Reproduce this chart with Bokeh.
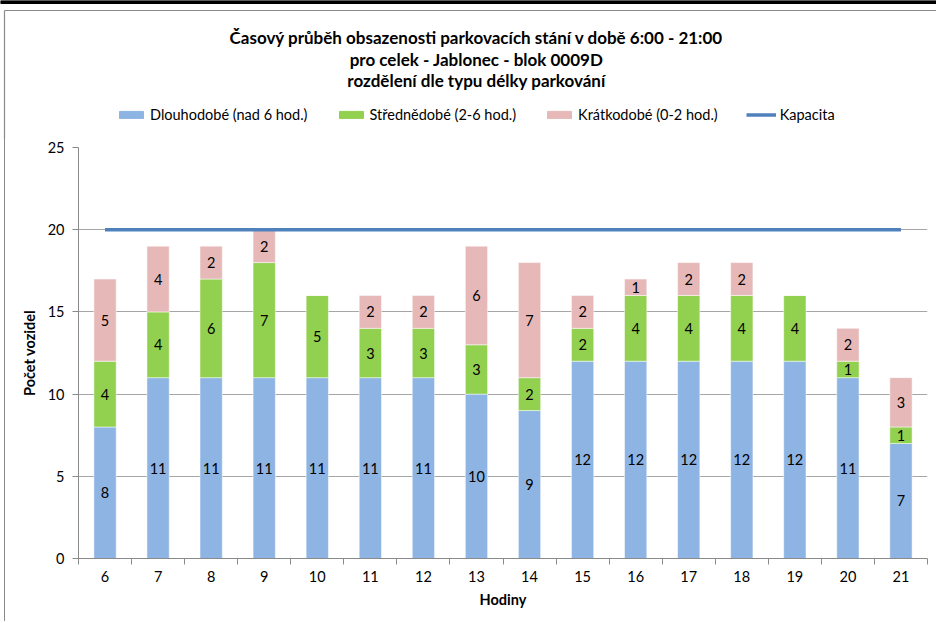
from bokeh.plotting import figure
from bokeh.models import ColumnDataSource, FixedTicker, Legend, LegendItem, Range1d
from bokeh.layouts import column
from bokeh.core.properties import value
from bokeh.embed import file_html
from bokeh.resources import INLINE

hours = [6, 7, 8, 9, 10, 11, 12, 13, 14, 15, 16, 17, 18, 19, 20, 21]
dlouhodobe = [8, 11, 11, 11, 11, 11, 11, 10, 9, 12, 12, 12, 12, 12, 11, 7]
strednedobe = [4, 4, 6, 7, 5, 3, 3, 3, 2, 2, 4, 4, 4, 4, 1, 1]
kratkodobe = [5, 4, 2, 2, 0, 2, 2, 6, 7, 2, 1, 2, 2, 0, 2, 3]
kapacita = [20] * len(hours)
y_ticks = [0, 5, 10, 15, 20, 25]

series_names = ["Dlouhodobé (nad 6 hod.)", "Střednědobé (2-6 hod.)", "Krátkodobé (0-2 hod.)"]
cap_name = "Kapacita"
colors = ["#8EB4E3", "#92D050", "#E6B9B8"]
cap_color = "#4F81BD"
title_lines = ["Časový průběh obsazenosti parkovacích stání v době 6:00 - 21:00",
               "pro celek - Jablonec - blok 0009D",
               "rozdělení dle typu délky parkování"]

FONT = "Lato"
GRAY = "#8a8a8a"

# ---------------- header: titles + legend ----------------
HW, HH = 936, 139
h = figure(width=HW, height=HH, output_backend="svg", toolbar_location=None,
           x_range=Range1d(0, HW), y_range=Range1d(HH, 0),
           min_border=0, min_border_left=0, min_border_right=0,
           min_border_top=0, min_border_bottom=0)
h.frame_align = False
h.axis.visible = False
h.grid.visible = False
h.outline_line_color = None
h.quad(left=[0], right=[HW], top=[0], bottom=[3], color="black")
h.segment(x0=[4, 4], y0=[10, 10], x1=[HW, 4], y1=[10, HH], line_color=GRAY, line_width=1.2)
h.text(x=[476] * 3, y=[37, 59, 80], text=title_lines, text_align="center",
       text_baseline="middle", text_font=value(FONT), text_font_size="17px",
       text_font_style="bold", text_color="#000000")

# legend swatches (zero-size marks, only used to style the legend entries)
dummy = [h.vbar(x=[0], top=[0], bottom=[0], width=0, color=c) for c in colors]
dummy_line = h.line(x=[0, 0], y=[0, 0], line_color=cap_color, line_width=3.5)
legend = Legend(items=[LegendItem(label=series_names[i], renderers=[dummy[i]]) for i in range(3)]
                + [LegendItem(label=cap_name, renderers=[dummy_line])],
                orientation="horizontal", location=(116, 16), spacing=28,
                glyph_width=30, glyph_height=9, label_standoff=4,
                label_text_font=FONT, label_text_font_size="14.5px",
                label_height=16, label_text_color="#000000",
                border_line_color=None, background_fill_alpha=0,
                padding=0, margin=0)
h.add_layout(legend)

# ---------------- main chart ----------------
src = ColumnDataSource(dict(hour=hours, d=dlouhodobe, s=strednedobe, k=kratkodobe))

p = figure(width=932, height=482, output_backend="svg", toolbar_location=None,
           x_range=Range1d(min(hours) - 0.5, max(hours) + 0.5),
           y_range=Range1d(min(y_ticks), max(y_ticks)),
           min_border_left=73, min_border_right=10, min_border_bottom=63, min_border_top=8)
p.frame_align = False
p.margin = (0, 0, 0, 4)
p.styles = {"border-left": "1.2px solid " + GRAY}

bars = p.vbar_stack(["d", "s", "k"], x="hour", width=0.42, color=colors,
                    line_color="white", line_width=0.5, source=src)
cap = p.line(hours, kapacita, line_color=cap_color, line_width=3.5)

# segment value labels
lx, ly, lt = [], [], []
for i, hr in enumerate(hours):
    base = 0
    for vals in (dlouhodobe, strednedobe, kratkodobe):
        v = vals[i]
        if v > 0:
            lx.append(hr)
            ly.append(base + v / 2)
            lt.append(str(v))
        base += v
p.text(lx, ly, text=lt, text_align="center", text_baseline="middle",
       text_font=value(FONT), text_font_size="14.5px", text_color="#000000")

# axes
p.xaxis.ticker = FixedTicker(ticks=hours, minor_ticks=[hr - 0.5 for hr in hours] + [max(hours) + 0.5])
p.xaxis.major_tick_line_color = None
p.xaxis.major_tick_out = 6
p.xaxis.minor_tick_out = 6
p.xaxis.minor_tick_in = 0
p.xaxis.minor_tick_line_color = GRAY
p.yaxis.ticker = FixedTicker(ticks=y_ticks)
p.yaxis.major_tick_out = 6
p.yaxis.major_tick_in = 0
p.yaxis.minor_tick_line_color = None
p.yaxis.major_tick_line_color = GRAY
for ax in (p.xaxis, p.yaxis):
    ax.axis_line_color = GRAY
    ax.major_label_text_font = FONT
    ax.major_label_text_font_size = "14.5px"
    ax.major_label_text_color = "#000000"
    ax.axis_label_text_font = FONT
    ax.axis_label_text_font_size = "14.5px"
    ax.axis_label_text_font_style = "bold"
    ax.axis_label_text_color = "#000000"
p.xaxis.axis_label = "Hodiny"
p.yaxis.axis_label = "Počet vozidel"
p.xaxis.major_label_standoff = 6
p.yaxis.major_label_standoff = 8
p.xaxis.axis_label_standoff = 6
p.yaxis.axis_label_standoff = 7

p.xgrid.grid_line_color = None
p.ygrid.grid_line_color = "#a6a6a6"
p.ygrid.ticker = p.yaxis.ticker
p.outline_line_color = None

layout = column(h, p, spacing=0)
open("out.html", "w").write(file_html(layout, INLINE))
